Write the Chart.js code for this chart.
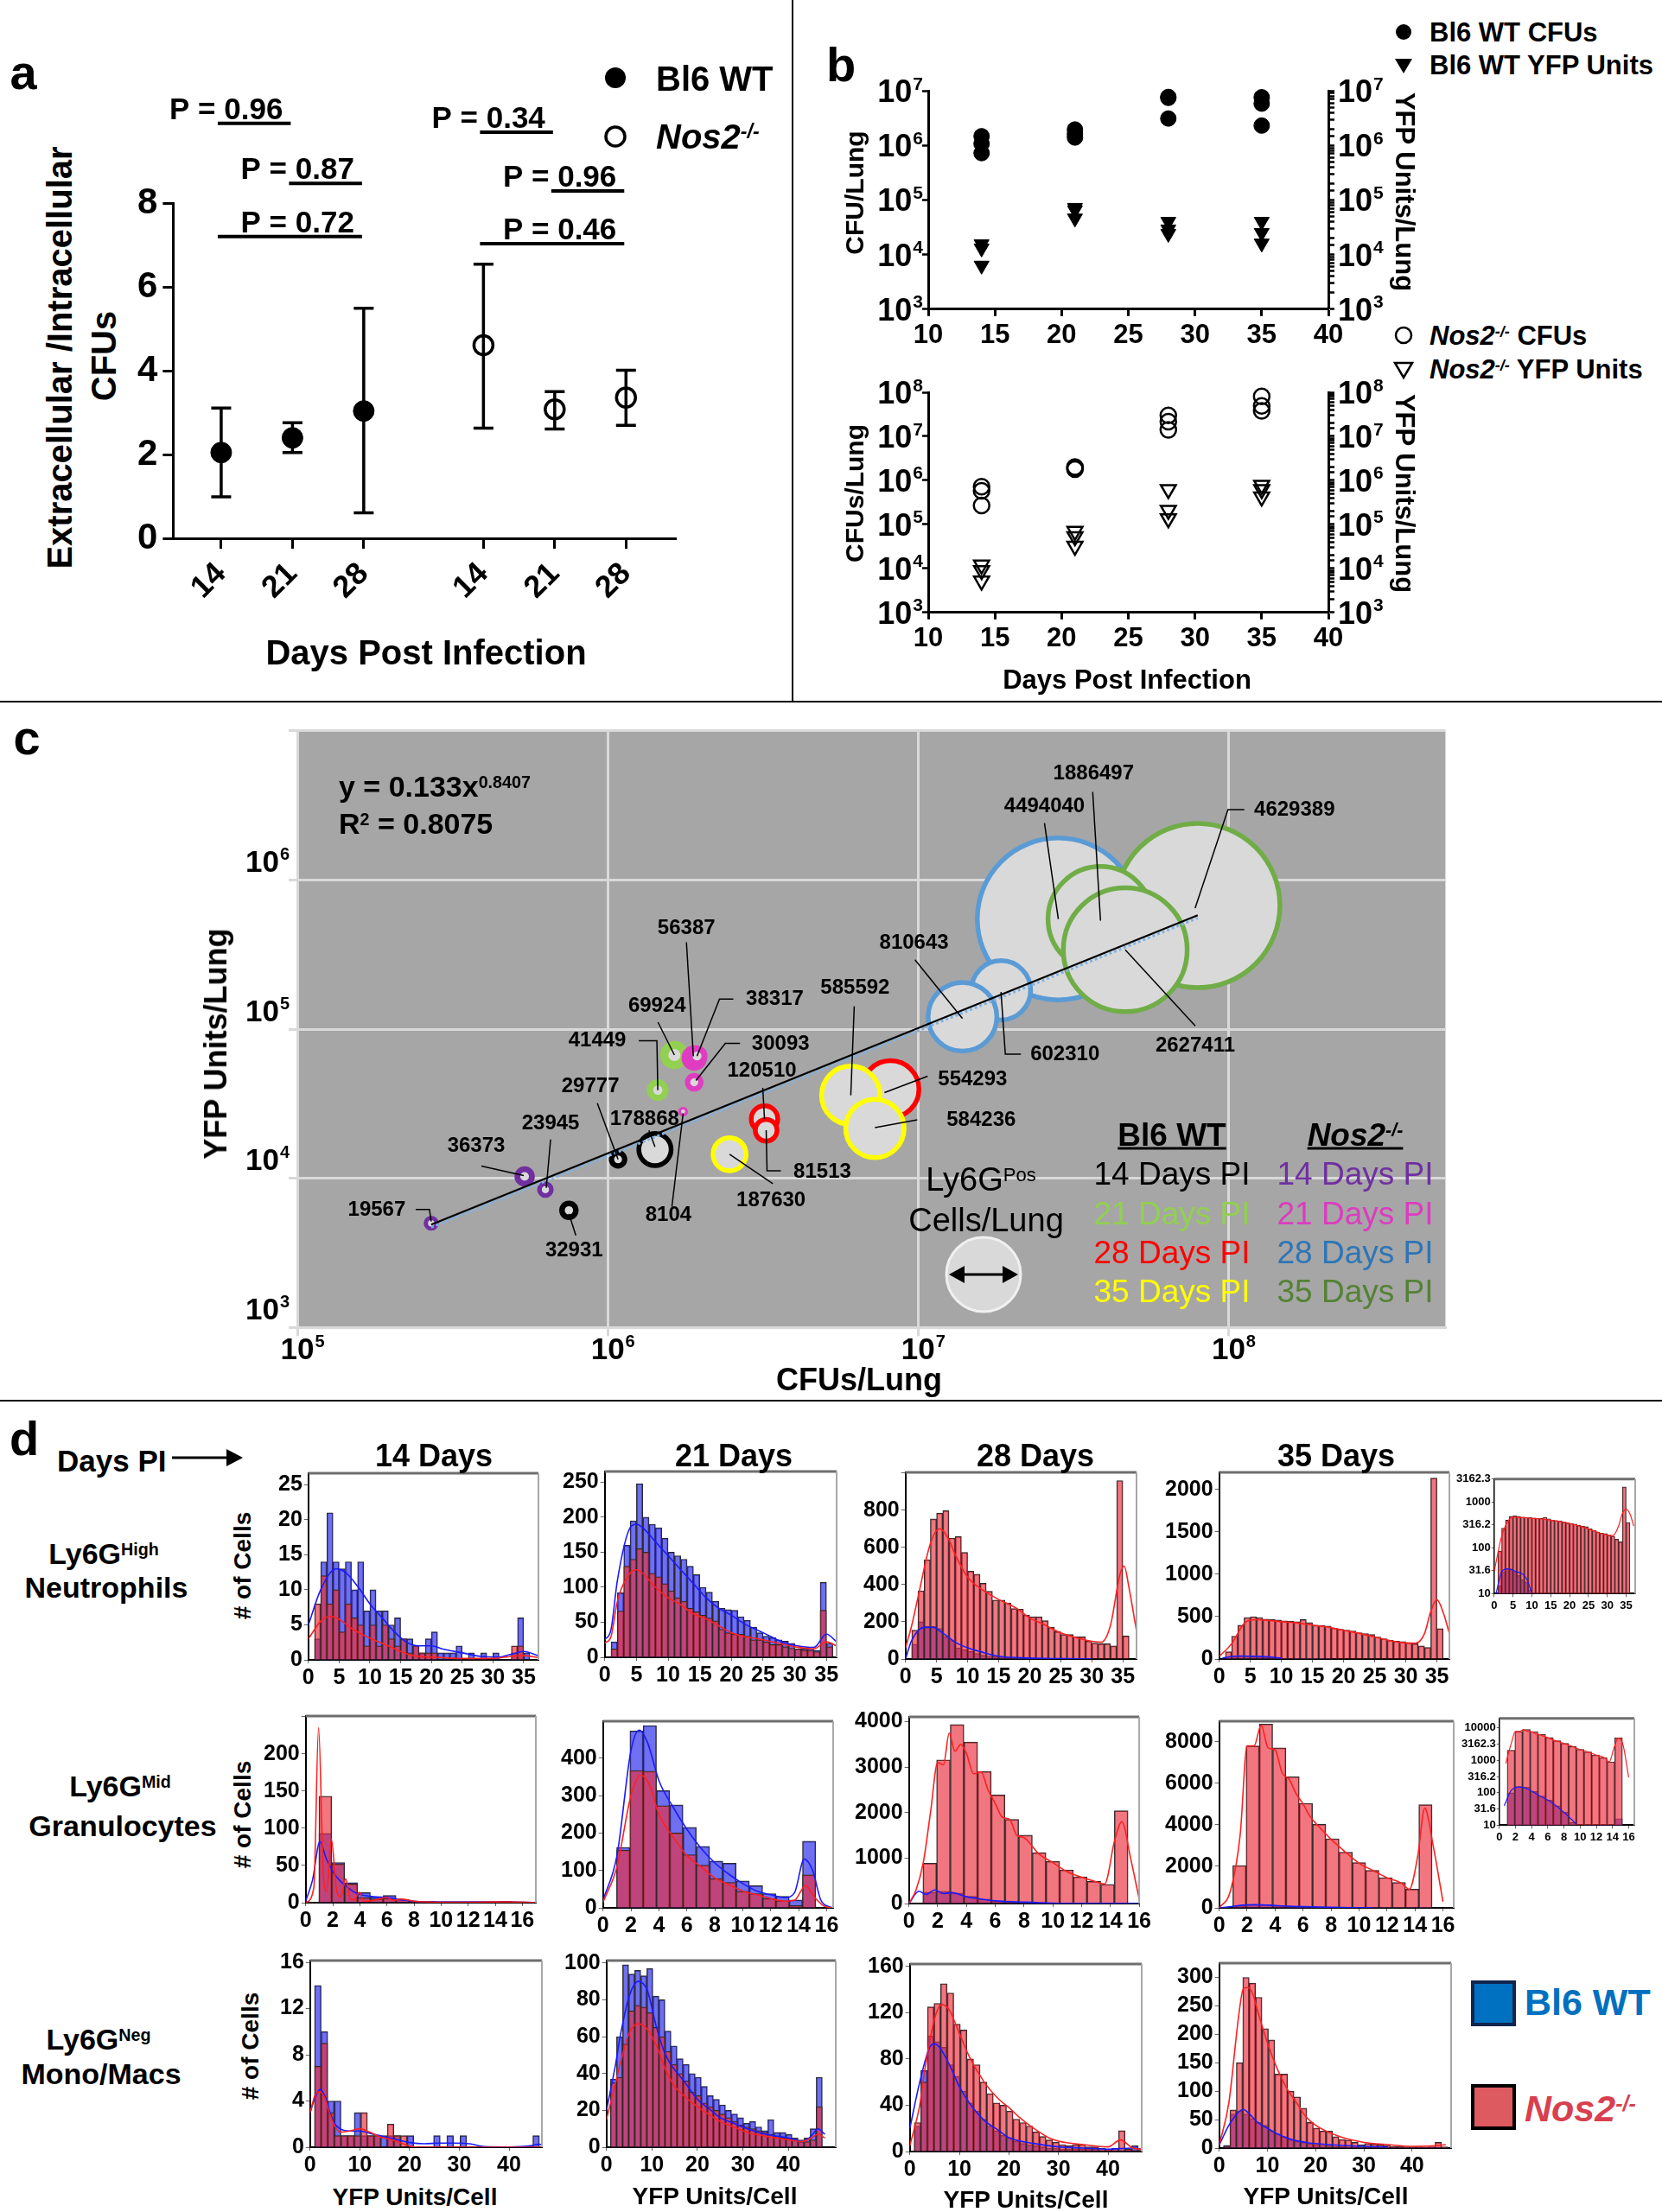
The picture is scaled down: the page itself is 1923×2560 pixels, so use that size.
<!DOCTYPE html>
<html>
<head>
<meta charset="utf-8">
<title>CFU and YFP units per lung</title>
<script src="https://cdn.jsdelivr.net/npm/chart.js@4.4.1/dist/chart.umd.min.js"></script>
<style>
  body { margin: 0; background: #fff; }
  #page { position: relative; width: 1923px; height: 2560px; overflow: hidden; background: #fff;
          font-family: "Liberation Sans", Arial, Helvetica, sans-serif; color: #000; }
  #page canvas { position: absolute; }
  .lbl { position: absolute; white-space: nowrap; font-weight: bold; line-height: 1; transform: translate(-50%, -50%); }
  .lbl sup { font-size: 0.58em; position: relative; top: -0.5em; vertical-align: baseline; }
</style>
</head>
<body>
<div id="page"></div>
<script>
var FONT = '"Liberation Sans", Arial, Helvetica, sans-serif';

// ---- a: extracellular / intracellular CFU ratio
var aTicks = ['14', '21', '28', '14', '21', '28'];
var aPos = [1, 2, 3, 4.68, 5.68, 6.68];
var wtRatio = [2.05, 2.40, 3.04];
var wtRatioLow = [0.99, 2.05, 0.61];
var wtRatioHigh = [3.11, 2.76, 5.49];
var nosRatio = [4.61, 3.08, 3.36];
var nosRatioLow = [2.63, 2.61, 2.70];
var nosRatioHigh = [6.54, 3.50, 4.01];
var pFrom = [0, 1, 0, 3, 4, 3];
var pTo = [1, 2, 2, 4, 5, 5];
var pText = ['0.96', '0.87', '0.72', '0.34', '0.96', '0.46'];
var pLevel = [9.9, 8.47, 7.2, 9.69, 8.29, 7.03];

// ---- b: CFU and YFP units per lung
var bDay = [14, 14, 14, 21, 21, 21, 28, 28, 28, 35, 35, 35];
var wtCfu = [1.47e6, 1.07e6, 7.2e5, 1.95e6, 1.62e6, 1.39e6, 7.7e6, 7.4e6, 3.1e6, 7.6e6, 5.8e6, 2.3e6];
var wtYfp = [1.55e4, 1.3e4, 6.3e3, 7.2e4, 6.5e4, 4.6e4, 4.0e4, 2.9e4, 2.4e4, 4.0e4, 2.5e4, 1.6e4];
var nosCfu = [7.2e5, 5.8e5, 2.7e5, 2.0e6, 1.9e6, 1.8e6, 3.0e7, 2.15e7, 1.4e7, 8.1e7, 4.9e7, 3.8e7];
var nosYfp = [1.2e4, 9e3, 5.2e3, 7.0e4, 5.3e4, 3.2e4, 6.2e5, 2.1e5, 1.35e5, 7.8e5, 6.2e5, 4.2e5];

// ---- c: bubbles, size = Ly6G+ cells per lung
var cGroups = ['Bl6 WT 14', 'Bl6 WT 21', 'Bl6 WT 28', 'Bl6 WT 35', 'Nos2 14', 'Nos2 21', 'Nos2 28', 'Nos2 35'];
var cColors = ['#000000', '#92d050', '#ff0000', '#ffff00', '#7030a0', '#e03cc2', '#5b9bd5', '#70ad47'];
var cCells = [[29777, 32931, 178868], [69924, 41449], [120510, 81513, 554293], [187630, 585592, 584236],
              [19567, 36373, 23945], [56387, 38317, 30093, 8104], [4494040, 602310, 810643], [4629389, 1886497, 2627411]];
var cCfu = [[1.08e6, 7.5e5, 1.42e6], [1.64e6, 1.45e6], [3.2e6, 3.24e6, 8.15e6], [2.47e6, 6.07e6, 7.26e6],
            [2.7e5, 5.4e5, 6.3e5], [1.9e6, 1.94e6, 1.9e6, 1.75e6], [2.83e7, 1.85e7, 1.39e7], [7.96e7, 3.87e7, 4.65e7]];
var cYfp = [[1.34e4, 6.1e3, 1.56e4], [6.7e4, 3.9e4], [2.5e4, 2.1e4, 3.96e4], [1.45e4, 3.6e4, 2.16e4],
            [5.0e3, 1.03e4, 8.4e3], [6.4e4, 6.6e4, 4.4e4, 2.8e4], [5.47e5, 1.82e5, 1.21e5], [6.73e5, 5.47e5, 3.4e5]];
var trendCfu = [2.7e5, 7.96e7];
var trendYfp = [4.9e3, 5.8e5];
var trendYfpDotted = [4.7e3, 5.55e5];

// ---- d: YFP units per cell histograms (bin counts, fitted curves as [x, y])
var hi14Wt = [3, 14, 21, 14, 13, 14, 10, 14, 7, 10, 7, 7, 5, 6, 3, 3, 2, 1, 3, 4, 1, 1, 1, 2, 0, 1, 0, 1, 0, 1, 0, 0, 1, 6, 1];
var hi14Nos = [8, 12, 8, 10, 4, 8, 6, 5, 2, 5, 2, 5, 3, 2, 3, 1, 2, 1, 1, 1, 0, 0, 0, 0, 0, 0, 0, 0, 0, 0, 0, 0, 2, 2, 0];
var hi14WtFit = [[0, 5], [2, 10], [4.5, 13], [6, 12.5], [8, 10.5], [10, 8], [12, 6], [14, 4], [16, 2.5], [18, 2], [20, 2], [22, 1.5], [25, 1], [28, 0.5], [31, 0.4], [33, 0.8], [35, 1.2], [37.4, 0.6]];
var hi14NosFit = [[0, 3], [2, 5.5], [3.5, 6.2], [5, 5.8], [7, 4.5], [9, 3.5], [11, 2.7], [13, 2], [15, 1.2], [17, 0.6], [20, 0.4], [25, 0.2], [30, 0.2], [33, 0.5], [35, 0.6], [37.4, 0.3]];
var hi21Wt = [22, 92, 160, 195, 248, 200, 190, 185, 170, 150, 145, 140, 130, 118, 100, 93, 80, 70, 68, 67, 58, 53, 43, 35, 30, 28, 25, 23, 20, 12, 12, 12, 10, 107, 20];
var hi21Nos = [12, 66, 130, 140, 155, 150, 120, 115, 105, 95, 85, 80, 70, 65, 60, 56, 52, 40, 35, 33, 33, 30, 25, 25, 22, 18, 18, 15, 13, 12, 10, 10, 8, 67, 15];
var hi21WtFit = [[0, 25], [1, 40], [2, 110], [4, 185], [5, 190], [6, 185], [8, 165], [10, 145], [12, 125], [14, 105], [16, 85], [18, 70], [20, 60], [22, 48], [25, 35], [28, 22], [30, 17], [33, 14], [35, 33], [36.6, 22]];
var hi21NosFit = [[0, 20], [1, 30], [2, 80], [4, 120], [5, 125], [6, 120], [8, 100], [10, 85], [12, 75], [14, 62], [16, 55], [18, 45], [20, 35], [25, 25], [30, 15], [33, 12], [35, 22], [36.6, 16]];
var hi28Wt = [80, 200, 175, 175, 165, 120, 100, 60, 50, 40, 30, 20, 15, 12, 12, 8, 5, 4, 3, 2, 2, 1, 1, 1, 1, 0, 0, 0, 0, 0, 0, 0, 0, 0, 0];
var hi28Nos = [155, 367, 534, 753, 784, 797, 650, 658, 573, 472, 456, 407, 364, 317, 317, 302, 271, 268, 237, 227, 227, 206, 170, 147, 132, 132, 119, 119, 97, 85, 82, 82, 70, 959, 124];
var hi28WtFit = [[0, 0], [1, 100], [3, 170], [4.5, 170], [6, 140], [8, 90], [10, 60], [12, 40], [15, 15], [20, 5], [25, 2], [30, 0]];
var hi28NosFit = [[0, 60], [1, 180], [2, 330], [4, 620], [5.5, 700], [7, 640], [8, 560], [10, 440], [12, 380], [15, 320], [18, 270], [20, 220], [22, 190], [25, 140], [28, 110], [30, 95], [31.5, 90], [33, 180], [34.5, 450], [35.2, 500], [36, 380], [37.2, 150]];
var hi35Wt = [15, 30, 35, 35, 30, 25, 20, 18, 12, 10, 5, 4, 3, 2, 2, 1, 1, 0, 0, 0, 0, 0, 0, 0, 0, 0, 0, 0, 0, 0, 0, 0, 0, 0, 0];
var hi35Nos = [85, 270, 400, 490, 500, 490, 470, 465, 460, 450, 445, 440, 465, 430, 400, 395, 390, 365, 350, 340, 330, 310, 300, 290, 260, 240, 220, 210, 205, 190, 180, 155, 136, 2136, 358];
var hi35WtFit = [[0.5, 10], [2, 30], [3.5, 35], [6, 30], [8, 25], [9, 18], [10, 10]];
var hi35NosFit = [[0, 30], [2, 180], [4, 420], [5, 460], [6, 465], [8, 455], [10, 440], [12, 430], [15, 400], [18, 370], [20, 340], [22, 310], [25, 260], [28, 210], [30, 190], [31.5, 185], [33, 300], [34, 560], [35, 700], [36, 550], [37, 300]];

var mid14Wt = [93, 54, 27, 13.5, 7.7, 9.7, 3.9, 2, 2, 0, 1, 0, 1, 0, 2];
var mid14Nos = [143, 52, 25, 6.6, 5, 5.8, 4.6, 2, 1, 0, 0, 0, 1, 0, 1];
var mid14WtFit = [[0, 2], [0.5, 30], [1.05, 82], [1.5, 60], [2, 42], [2.5, 30], [3, 22], [3.5, 15], [4, 11], [5, 8], [6, 7], [7, 4], [8, 2], [10, 1], [13, 1], [15, 1], [17, 0]];
var mid14NosFit = [[0, 0], [0.6, 20], [0.95, 235], [1.3, 40], [1.55, 15], [1.9, 85], [2.25, 20], [2.6, 8], [2.95, 32], [3.3, 5], [3.6, 4], [3.95, 14], [4.3, 2], [5, 3], [6, 7], [6.5, 3], [7, 5], [8, 2], [9, 1], [10, 0.5], [12, 0.5], [14, 1], [15, 1], [17, 0]];
var mid21Wt = [161.5, 473, 487, 313, 275, 215, 164, 125, 119, 72, 59, 38, 31, 21, 178];
var mid21Nos = [154, 367, 365, 273, 200, 142, 114, 78, 68, 44, 38, 25, 19, 6, 88];
var mid21WtFit = [[0, 20], [1, 140], [2, 420], [2.6, 475], [3.2, 440], [4, 340], [5, 270], [6, 210], [7, 160], [8, 120], [9, 90], [10, 65], [11, 45], [12, 35], [13, 27], [13.7, 40], [14.4, 130], [15, 100], [15.6, 20], [16.4, 0]];
var mid21NosFit = [[0, 15], [1, 110], [2, 300], [2.7, 355], [3.3, 330], [4, 250], [5, 190], [6, 140], [7, 110], [8, 80], [9, 62], [10, 45], [11, 35], [12, 25], [13, 18], [13.7, 20], [14.5, 60], [15.1, 30], [15.8, 5], [16.4, 0]];
var mid28Wt = [250, 270, 230, 160, 100, 50, 30, 20, 10, 5, 5, 3, 3, 2, 5];
var mid28Nos = [885, 3160, 3937, 3551, 2907, 2389, 1851, 1504, 1118, 929, 739, 588, 487, 423, 2041];
var mid28WtFit = [[0, 0], [0.7, 270], [1.2, 200], [1.8, 300], [2.4, 220], [3, 240], [4, 150], [5, 100], [6, 60], [8, 30], [10, 10], [12, 5], [16, 0]];
var mid28NosFit = [[0, 0], [0.5, 300], [1, 900], [1.5, 2000], [2, 3100], [2.4, 3050], [2.8, 3750], [3.2, 3350], [3.6, 3500], [4, 3300], [4.5, 2850], [5, 2900], [5.5, 2500], [6, 2200], [6.5, 1900], [7, 1850], [7.5, 1500], [8, 1450], [9, 1100], [10, 900], [11, 700], [12, 580], [13, 480], [13.6, 430], [14.3, 1400], [14.8, 1800], [15.4, 1000], [16, 100]];
var mid35Wt = [100, 155, 150, 110, 80, 60, 40, 25, 12, 10, 3, 3, 3, 3, 16];
var mid35Nos = [2039, 7795, 8849, 7698, 6311, 5035, 4022, 3329, 2677, 2178, 1803, 1456, 1220, 901, 4965];
var mid35WtFit = [[0, 0], [0.6, 40], [1.5, 120], [2.5, 150], [3.5, 130], [5, 80], [6.5, 50], [8, 25], [9.5, 11], [11, 4]];
var mid35NosFit = [[0, 0], [0.8, 800], [1.5, 3500], [2, 7800], [2.5, 7800], [3, 8800], [3.5, 7700], [4, 7600], [4.5, 6500], [5, 6200], [5.5, 5500], [6, 5000], [6.5, 4400], [7, 4000], [8, 3300], [9, 2700], [10, 2150], [11, 1800], [12, 1450], [13, 1200], [13.6, 900], [14.2, 2500], [14.7, 4800], [15.3, 3000], [16, 300]];

var neg14Wt = [14, 10, 4, 4, 1, 1, 3, 1, 1, 1, 1, 1, 1, 0, 1, 0, 0, 0, 1, 0, 1, 0, 1, 0, 0, 0, 0, 0, 0, 0, 0, 0, 0, 1, 0];
var neg14Nos = [7, 9, 3, 1, 1, 1, 1, 3, 1, 1, 0, 2, 1, 1, 0, 0, 0, 0, 0, 0, 0, 0, 0, 0, 0, 0, 0, 0, 0, 0, 0, 0, 0, 0, 0];
var neg14WtFit = [[0, 3], [1, 4.3], [2, 5], [3, 4.4], [4, 3], [5, 2], [6, 1.6], [8, 1.4], [10, 1.4], [12, 1.2], [14, 1], [16, 0.8], [18, 0.6], [20, 0.4], [23, 0.3], [26, 0.35], [29, 0.35], [32, 0.3], [35, 0.05], [40, 0.02], [44, 0.1], [46, 0.25], [47, 0.2]];
var neg14NosFit = [[0, 3], [1, 4.5], [2, 4.8], [3, 4.2], [4, 2.8], [5, 1.8], [6, 1.3], [8, 1.4], [10, 1.6], [12, 1.3], [14, 0.9], [16, 0.7], [18, 0.4], [20, 0.1], [22, 0], [47, 0]];
var neg21Wt = [37, 60, 99, 94, 96, 93, 97, 82, 80, 63, 55, 48, 45, 40, 38, 33, 28, 26, 23, 20, 18, 16, 13, 14, 11, 9, 15, 8, 8, 7, 5, 4, 5, 10, 38];
var neg21Nos = [35, 38, 56, 74, 77, 76, 73, 65, 60, 52, 45, 40, 36, 30, 28, 24, 22, 20, 18, 16, 14, 12, 11, 10, 9, 8, 7, 6, 5, 5, 4, 3, 3, 4, 22];
var neg21WtFit = [[0, 20], [2, 45], [3, 60], [5, 82], [7, 90], [9, 85], [11, 65], [13, 50], [15, 42], [17, 36], [20, 26], [23, 20], [25, 16], [28, 13], [31, 10], [35, 7], [40, 5], [43, 3], [45, 6], [46.5, 10], [48, 7]];
var neg21NosFit = [[0, 15], [2, 35], [3, 45], [5, 62], [7, 67], [9, 64], [11, 55], [13, 42], [15, 33], [17, 28], [20, 22], [23, 17], [25, 14], [28, 11], [31, 8], [35, 6], [40, 4], [43, 3], [45, 5], [46.5, 7], [48, 5]];
var neg28Wt = [22, 70, 100, 95, 90, 75, 65, 52, 42, 35, 28, 22, 18, 14, 12, 9, 7, 6, 5, 4, 3, 3, 2, 2, 2, 2, 2, 2, 1, 1, 1, 1, 1, 5, 1];
var neg28Nos = [25, 60, 125, 128, 145, 137, 110, 105, 80, 75, 60, 50, 42, 40, 35, 28, 25, 22, 17, 13, 10, 8, 6, 5, 6, 6, 4, 4, 3, 2, 3, 18, 2, 1, 1];
var neg28WtFit = [[0, 20], [2, 60], [4, 90], [5, 93], [6, 90], [8, 75], [10, 56], [12, 42], [15, 27], [18, 18], [20, 12], [25, 7], [30, 4], [35, 3], [40, 2], [45, 3], [47, 2]];
var neg28NosFit = [[0, 5], [2, 40], [3, 70], [5, 115], [6.5, 127], [8, 122], [10, 102], [12, 82], [15, 60], [18, 45], [20, 38], [22, 30], [25, 20], [28, 12], [30, 9], [35, 6], [40, 4], [42.5, 10], [45, 3], [47, 2]];
var neg35Wt = [5, 60, 65, 60, 52, 45, 40, 30, 25, 20, 15, 12, 10, 8, 6, 5, 4, 3, 3, 2, 2, 2, 2, 1, 1, 1, 1, 1, 1, 1, 1, 1, 1, 1, 1];
var neg35Nos = [3, 67, 150, 300, 290, 265, 210, 190, 130, 130, 100, 90, 70, 45, 35, 30, 30, 20, 15, 14, 10, 6, 8, 7, 6, 5, 3, 3, 2, 2, 2, 1, 2, 10, 2];
var neg35WtFit = [[0, 5], [2, 40], [4, 63], [5, 68], [6, 62], [8, 45], [10, 35], [12, 25], [15, 15], [18, 10], [20, 8], [25, 5], [30, 3], [35, 2]];
var neg35NosFit = [[0, 5], [2, 80], [4, 230], [5, 280], [6, 282], [7, 270], [8, 240], [10, 185], [12, 140], [14, 105], [16, 80], [18, 55], [20, 40], [25, 20], [30, 10], [35, 6], [40, 3], [45, 4], [47, 6]];

// ------------------------------------------------------------------
Chart.defaults.font.family = FONT;
Chart.defaults.color = '#000';
Chart.defaults.animation = false;
Chart.defaults.responsive = false;
Chart.defaults.maintainAspectRatio = false;
Chart.defaults.events = [];
Chart.defaults.plugins.legend.display = false;
Chart.defaults.plugins.tooltip.enabled = false;

var page = document.getElementById('page');

function mix(a, b) { var o = {}, k; for (k in a) o[k] = a[k]; for (k in b) o[k] = b[k]; return o; }

function label(html, x, y, size, css) {
  var d = document.createElement('div');
  d.className = 'lbl';
  d.innerHTML = html;
  d.style.left = x + 'px';
  d.style.top = y + 'px';
  d.style.fontSize = size + 'px';
  if (css) for (var k in css) d.style[k] = css[k];
  page.appendChild(d);
  return d;
}
var LEFT = { transform: 'translate(0,-50%)' };
var ROT_L = { transform: 'translate(-50%,-50%) rotate(-90deg)' };
var ROT_R = { transform: 'translate(-50%,-50%) rotate(90deg)' };

function tickList(max, step) {
  var out = [];
  for (var i = 0; i * step <= max + 1e-9; i++) out.push({ value: +(i * step).toFixed(6) });
  return out;
}

// build the chart, then resize/move the canvas so the plot area lands on box
function makeChart(box, build) {
  box = box.map(Math.round);
  var cv = document.createElement('canvas');
  page.appendChild(cv);
  var bw = box[2] - box[0], bh = box[3] - box[1];
  var w = bw + 250, h = bh + 250, ch, a;
  for (var k = 0; k < 3; k++) {
    cv.width = w; cv.height = h;
    cv.style.width = w + 'px'; cv.style.height = h + 'px';
    ch = new Chart(cv, build());
    a = ch.chartArea;
    var dw = bw - (a.right - a.left), dh = bh - (a.bottom - a.top);
    if ((Math.abs(dw) < 0.6 && Math.abs(dh) < 0.6) || k === 2) break;
    ch.destroy();
    w = Math.round(w + dw); h = Math.round(h + dh);
  }
  a = ch.chartArea;
  cv.style.left = (box[0] - a.left) + 'px';
  cv.style.top = (box[1] - a.top) + 'px';
  return ch;
}

// ---- plugins
var errorBars = {
  id: 'errorBars',
  beforeDatasetsDraw: function (chart) {
    var ctx = chart.ctx, xs = chart.scales.x, ys = chart.scales.y;
    chart.data.datasets.forEach(function (ds) {
      if (!ds.low) return;
      ctx.save();
      ctx.strokeStyle = '#000';
      ctx.lineWidth = 3.5;
      ds.data.forEach(function (p, i) {
        var x = xs.getPixelForValue(p.x), y1 = ys.getPixelForValue(ds.low[i]), y2 = ys.getPixelForValue(ds.high[i]);
        ctx.beginPath();
        ctx.moveTo(x, y1); ctx.lineTo(x, y2);
        ctx.moveTo(x - 11.5, y1); ctx.lineTo(x + 11.5, y1);
        ctx.moveTo(x - 11.5, y2); ctx.lineTo(x + 11.5, y2);
        ctx.stroke();
      });
      ctx.restore();
    });
  }
};

var pLines = {
  id: 'pLines',
  afterDraw: function (chart) {
    var ctx = chart.ctx, xs = chart.scales.x, ys = chart.scales.y;
    ctx.save();
    ctx.strokeStyle = '#000'; ctx.fillStyle = '#000'; ctx.lineWidth = 4;
    ctx.font = 'bold 35px ' + FONT; ctx.textAlign = 'right'; ctx.textBaseline = 'alphabetic';
    pText.forEach(function (t, i) {
      var x1 = xs.getPixelForValue(aPos[pFrom[i]]) - 4, x2 = xs.getPixelForValue(aPos[pTo[i]]) - 2;
      var y = ys.getPixelForValue(pLevel[i]);
      ctx.beginPath(); ctx.moveTo(x1, y); ctx.lineTo(x2, y); ctx.stroke();
      ctx.fillText('P = ' + t, x2 - 9, y - 5);
    });
    ctx.restore();
  }
};

// "10" with a superscript exponent at each decade tick
var powLabels = {
  id: 'powLabels',
  afterDraw: function (chart, args, opts) {
    var ctx = chart.ctx;
    (opts.axes || []).forEach(function (a) {
      var sc = chart.scales[a.id];
      sc.ticks.forEach(function (t) {
        var lg = Math.log10(t.value), e = Math.round(lg);
        if (Math.abs(lg - e) > 1e-6) return;
        if (a.skip && a.skip.indexOf(e) >= 0) return;
        var p = sc.getPixelForValue(t.value);
        var big = 'bold ' + a.size + 'px ' + FONT, small = 'bold ' + a.sup + 'px ' + FONT;
        ctx.save();
        ctx.fillStyle = '#000'; ctx.textAlign = 'left'; ctx.textBaseline = 'alphabetic';
        ctx.font = big; var w1 = ctx.measureText('10').width;
        ctx.font = small; var w2 = ctx.measureText(String(e)).width;
        var x0, yb;
        if (a.side === 'left') { x0 = sc.right - a.gap - w1 - w2 - 1; yb = p + a.size * 0.36 + (a.dy || 0); }
        else if (a.side === 'right') { x0 = sc.left + a.gap; yb = p + a.size * 0.36 + (a.dy || 0); }
        else { x0 = p - w1 / 2 + (a.dx || 0); yb = sc.top + a.gap + a.size * 0.72; }
        ctx.font = big; ctx.fillText('10', x0, yb);
        ctx.font = small; ctx.fillText(String(e), x0 + w1 + 1, yb - a.size * 0.4);
        ctx.restore();
      });
    });
  }
};

var plotBg = {
  id: 'plotBg',
  beforeDraw: function (chart) {
    var a = chart.chartArea, ctx = chart.ctx;
    ctx.save(); ctx.fillStyle = '#a6a6a6';
    ctx.fillRect(a.left, a.top, a.right - a.left, a.bottom - a.top);
    ctx.restore();
  }
};

var boxFrame = {
  id: 'boxFrame',
  afterDraw: function (chart) {
    var a = chart.chartArea, ctx = chart.ctx;
    ctx.save();
    ctx.strokeStyle = '#6e6e6e'; ctx.lineWidth = 3;
    ctx.beginPath(); ctx.moveTo(a.left, a.top); ctx.lineTo(a.right, a.top); ctx.stroke();
    ctx.strokeStyle = '#a8a8a8'; ctx.lineWidth = 2;
    ctx.beginPath(); ctx.moveTo(a.right, a.top); ctx.lineTo(a.right, a.bottom); ctx.stroke();
    ctx.restore();
  }
};

// label text offset [dx, dy] from the bubble centre, then leader line points
var cNotes = {
  29777: [-32, -84, [[-24, -65], [0, 0]]],
  32931: [6, 47, [[8, 29], [0, 4]]],
  178868: [-12, -35, [[-7, -22], [0, -3]]],
  69924: [-20, -57, [[-19, -38], [0, 0]]],
  41449: [-70, -57, [[-22, -57], [-1, -57], [0, 0]]],
  120510: [-3, -56, [[-2, -36], [0, 0]]],
  81513: [65, 48, [[17, 47], [1, 47], [0, 0]]],
  554293: [95, -11, [[43, -15], [-7, 4]]],
  187630: [48, 54, [[50, 34], [0, 0]]],
  585592: [5, -124, [[4, -103], [0, 0]]],
  584236: [123, -10, [[49, -10], [0, -1]]],
  19567: [-63, -15, [[-18, -16], [-2, -16], [0, -2]]],
  36373: [-56, -35, [[-50, -12], [-1, -1]]],
  23945: [6, -76, [[6, -58], [1, -2]]],
  56387: [-9, -150, [[-9, -134], [-1, -2]]],
  38317: [90, -66, [[42, -66], [26, -66], [0, 0]]],
  30093: [100, -44, [[53, -45], [36, -45], [2, -2]]],
  8104: [-17, 120, [[-13, 110], [0, 2]]],
  810643: [-56, -85, [[-55, -66], [0, 2]]],
  602310: [74, 74, [[23, 74], [5, 74], [0, 2]]],
  4494040: [-16, -130, [[-16, -111], [0, 0]]],
  4629389: [112, -111, [[54, -111], [35, -111], [-3, 3]]],
  2627411: [81, 111, [[81, 88], [0, 0]]],
  1886497: [-8, -168, [[-9, -147], [0, 2]]]
};

var bubbleNotes = {
  id: 'bubbleNotes',
  afterDatasetsDraw: function (chart) {
    var ctx = chart.ctx, xs = chart.scales.x, ys = chart.scales.y;
    ctx.save();
    ctx.font = 'bold 24px ' + FONT; ctx.textAlign = 'center'; ctx.textBaseline = 'middle';
    ctx.strokeStyle = '#000'; ctx.fillStyle = '#000'; ctx.lineWidth = 1.5;
    chart.data.datasets.forEach(function (ds) {
      if (!ds.cells) return;
      ds.data.forEach(function (p, i) {
        var n = cNotes[ds.cells[i]];
        if (!n) return;
        var px = xs.getPixelForValue(p.x), py = ys.getPixelForValue(p.y);
        ctx.beginPath();
        n[2].forEach(function (q, j) {
          if (j) ctx.lineTo(px + q[0], py + q[1]); else ctx.moveTo(px + q[0], py + q[1]);
        });
        ctx.stroke();
        ctx.fillText(String(ds.cells[i]), px + n[0], py + n[1]);
      });
    });
    ctx.restore();
  }
};

// =================== panel a
makeChart([200, 235, 782, 623], function () {
  return {
    type: 'scatter',
    data: { datasets: [
      { label: 'Bl6 WT', data: wtRatio.map(function (v, i) { return { x: aPos[i], y: v }; }),
        low: wtRatioLow, high: wtRatioHigh,
        pointRadius: 12, pointBackgroundColor: '#000', pointBorderColor: '#000', pointBorderWidth: 1 },
      { label: 'Nos2-/-', data: nosRatio.map(function (v, i) { return { x: aPos[i + 3], y: v }; }),
        low: nosRatioLow, high: nosRatioHigh,
        pointRadius: 11, pointBackgroundColor: 'rgba(255,255,255,0)', pointBorderColor: '#000', pointBorderWidth: 3.5 }
    ] },
    options: {
      layout: { padding: { top: 170, right: 30, left: 10, bottom: 10 } },
      scales: {
        x: { type: 'linear', min: 0.326, max: 7.38,
             afterBuildTicks: function (s) { s.ticks = aPos.map(function (v) { return { value: v }; }); },
             ticks: { callback: function (v) { return aTicks[aPos.indexOf(v)]; }, minRotation: 45, maxRotation: 45,
                      autoSkip: false, font: { size: 36, weight: 'bold' }, padding: 8 },
             grid: { drawOnChartArea: false, tickLength: 12, tickWidth: 3, tickColor: '#000' },
             border: { color: '#000', width: 3 } },
        y: { min: 0, max: 8,
             ticks: { stepSize: 2, font: { size: 42, weight: 'bold' }, padding: 6 },
             grid: { drawOnChartArea: false, tickLength: 12, tickWidth: 3, tickColor: '#000' },
             border: { color: '#000', width: 3 } }
      }
    },
    plugins: [errorBars, pLines]
  };
});

// =================== panel b
function scatterSet(vals, style, r, filled) {
  return {
    data: vals.map(function (v, i) { return { x: bDay[i], y: v }; }),
    clip: false,
    pointStyle: style, pointRadius: r, pointRotation: style === 'triangle' ? 180 : 0,
    pointBackgroundColor: filled ? '#000' : 'rgba(255,255,255,0)',
    pointBorderColor: '#000', pointBorderWidth: filled ? 1 : 2.5
  };
}
function bPanel(box, ymax, sets) {
  return makeChart(box, function () {
    var logAxis = function (pos, decadesOnly) {
      var o = { type: 'logarithmic', position: pos, min: 1e3, max: ymax,
        ticks: { display: false },
        grid: { drawOnChartArea: false, tickLength: 7, tickWidth: 2.5, tickColor: '#000' },
        border: { color: '#000', width: 3 } };
      if (decadesOnly) o.afterBuildTicks = function (s) {
        s.ticks = s.ticks.filter(function (t) { var l = Math.log10(t.value); return Math.abs(l - Math.round(l)) < 1e-6; });
      };
      return o;
    };
    return {
      type: 'scatter',
      data: { datasets: sets() },
      options: {
        layout: { padding: { left: 95, right: 100, top: 25, bottom: 5 } },
        plugins: { powLabels: { axes: [
          { id: 'y', side: 'left', size: 36, sup: 21, gap: 6 },
          { id: 'y2', side: 'right', size: 36, sup: 21, gap: 11 } ] } },
        scales: {
          x: { type: 'linear', min: 10, max: 40,
               ticks: { stepSize: 5, font: { size: 31, weight: 'bold' }, padding: 4 },
               grid: { drawOnChartArea: false, tickLength: 8, tickWidth: 3, tickColor: '#000' },
               border: { color: '#000', width: 3 } },
          y: logAxis('left', true),
          y2: logAxis('right', false)
        }
      },
      plugins: [powLabels]
    };
  });
}
bPanel([1074, 105, 1537, 358], 1e7, function () {
  return [scatterSet(wtCfu, 'circle', 9, true), scatterSet(wtYfp, 'triangle', 10, true)];
});
bPanel([1074, 454, 1537, 709], 1e8, function () {
  return [scatterSet(nosCfu, 'circle', 9, false), scatterSet(nosYfp, 'triangle', 10, false)];
});

// =================== panel c
var cOrder = [8, 7, 4, 3, 6, 5, 2, 1];
function bubbleR(cells) { return 0.0442 * Math.sqrt(cells); }
makeChart([344, 846, 1672, 1537], function () {
  var sets = cGroups.map(function (g, k) {
    return {
      type: 'bubble', label: g, cells: cCells[k], order: cOrder[k],
      data: cCells[k].map(function (n, i) { return { x: cCfu[k][i], y: cYfp[k][i], r: bubbleR(n) }; }),
      backgroundColor: '#d9d9d9', borderColor: cColors[k],
      borderWidth: function (ctx) { var r = ctx.raw ? ctx.raw.r : 20; return r < 12 ? r * 0.8 : 5.5; }
    };
  });
  sets.push({ type: 'line', label: 'fit', order: -1, pointRadius: 0, borderColor: '#7fb2e5', borderWidth: 3, borderDash: [3, 3],
              data: trendCfu.map(function (x, i) { return { x: x, y: trendYfpDotted[i] }; }) });
  sets.push({ type: 'line', label: 'power fit', order: -2, pointRadius: 0, borderColor: '#000', borderWidth: 2.2,
              data: trendCfu.map(function (x, i) { return { x: x, y: trendYfp[i] }; }) });
  return {
    type: 'bubble',
    data: { datasets: sets },
    options: {
      layout: { padding: { left: 110, bottom: 60, top: 10, right: 10 } },
      plugins: { powLabels: { axes: [
        { id: 'y', side: 'left', size: 35, sup: 20, gap: 9, dy: -22, skip: [7] },
        { id: 'x', side: 'bottom', size: 35, sup: 20, gap: 11 } ] } },
      scales: {
        x: { type: 'logarithmic', min: 1e5, max: 5e8,
             afterBuildTicks: function (s) { s.ticks = [1e5, 1e6, 1e7, 1e8].map(function (v) { return { value: v }; }); },
             ticks: { display: false },
             grid: { color: '#d9d9d9', lineWidth: 3, tickLength: 10, tickColor: '#d9d9d9' },
             border: { color: '#d9d9d9', width: 3 } },
        y: { type: 'logarithmic', min: 1e3, max: 1e7,
             afterBuildTicks: function (s) { s.ticks = [1e3, 1e4, 1e5, 1e6, 1e7].map(function (v) { return { value: v }; }); },
             ticks: { display: false },
             grid: { color: '#d9d9d9', lineWidth: 3, tickLength: 10, tickColor: '#d9d9d9' },
             border: { color: '#d9d9d9', width: 3 } }
      }
    },
    plugins: [plotBg, powLabels, bubbleNotes]
  };
});

// =================== panel d
function hist(box, d) {
  return makeChart(box, function () {
    var pts = function (arr) { return arr.map(function (v, i) { return { x: d.start + i * d.step, y: v }; }); };
    var fit = function (arr) {
      return arr.filter(function (p) { return !d.log || p[1] >= d.ymin; }).map(function (p) { return { x: p[0], y: p[1] }; });
    };
    var barSet = function (arr, color, order, name) {
      return { type: 'bar', label: name, data: pts(arr), backgroundColor: color, borderColor: '#2b2b2b',
               borderWidth: d.bw || 1, grouped: false, barPercentage: 1, categoryPercentage: 1, order: order };
    };
    var lineSet = function (arr, color) {
      return { type: 'line', data: fit(arr), borderColor: color, borderWidth: d.lw || 1.6, pointRadius: 0,
               cubicInterpolationMode: 'monotone', order: 0 };
    };
    var labelTop = d.labelMax || d.ymax;
    var y = d.log ? {
      type: 'logarithmic', min: d.ymin, max: d.ymax,
      afterBuildTicks: function (s) { s.ticks = d.logTicks.map(function (v) { return { value: v }; }); },
      ticks: { callback: function (v) { return String(v); }, font: { size: d.fs, weight: 'bold' }, padding: 1 },
      grid: { drawOnChartArea: false, tickLength: 3, tickColor: '#666' },
      border: { color: '#000', width: 1.5 }
    } : {
      type: 'linear', min: 0, max: d.ymax,
      afterBuildTicks: function (s) { s.ticks = tickList(d.ymax, d.yMinor || d.yStep); },
      ticks: { callback: function (v) { var q = v / d.yStep; return (Math.abs(q - Math.round(q)) < 1e-6 && v <= labelTop) ? v : ''; },
               font: { size: d.fs, weight: 'bold' }, padding: 2 },
      grid: { drawOnChartArea: false, tickLength: 5, tickColor: '#666' },
      border: { color: '#000', width: 2 }
    };
    return {
      type: 'bar',
      data: { datasets: [
        lineSet(d.nosFit, '#ff2020'), lineSet(d.wtFit, '#1a1aff'),
        barSet(d.nos, 'rgba(235,45,60,0.65)', 1, 'Nos2-/-'), barSet(d.wt, 'rgba(50,50,235,0.7)', 2, 'Bl6 WT')
      ] },
      options: {
        layout: { padding: { left: 4, right: 12, top: 8, bottom: 4 } },
        scales: {
          x: { type: 'linear', offset: false, min: 0, max: d.xmax,
               afterBuildTicks: function (s) { s.ticks = tickList(d.xLast, d.xStep); },
               ticks: { font: { size: d.fs, weight: 'bold' }, autoSkip: false, maxRotation: 0, padding: 2 },
               grid: { offset: false, drawOnChartArea: false, tickLength: 4, tickColor: '#666' },
               border: { color: '#000', width: 2 } },
          y: y
        }
      },
      plugins: [boxFrame]
    };
  });
}

var rowHigh = { start: 1.5, step: 1, xLast: 35, xStep: 5, fs: 25 };
var rowMid = { start: 1.45, step: 0.95, xLast: 16, xStep: 2, fs: 25 };
var rowNeg = { start: 1.55, step: 1.33, xLast: 40, xStep: 10, fs: 25 };
var inset = { fs: 13, lw: 1.2, bw: 0.8, log: true, ymin: 10 };

hist([357, 1705, 623, 1921], mix(rowHigh, { xmax: 37.4, ymax: 26.64, yStep: 5, wt: hi14Wt, nos: hi14Nos, wtFit: hi14WtFit, nosFit: hi14NosFit }));
hist([700, 1703, 968, 1918], mix(rowHigh, { xmax: 36.6, ymax: 265.3, yStep: 50, wt: hi21Wt, nos: hi21Nos, wtFit: hi21WtFit, nosFit: hi21NosFit }));
hist([1048, 1704, 1315, 1920], mix(rowHigh, { xmax: 37.2, ymax: 1003, yStep: 200, yMinor: 100, labelMax: 800, wt: hi28Wt, nos: hi28Nos, wtFit: hi28WtFit, nosFit: hi28NosFit }));
hist([1411, 1704, 1677, 1920], mix(rowHigh, { xmax: 37, ymax: 2204, yStep: 500, yMinor: 250, wt: hi35Wt, nos: hi35Nos, wtFit: hi35WtFit, nosFit: hi35NosFit }));
hist([1729, 1712, 1892, 1845], mix(mix(rowHigh, inset), { xmax: 37.4, ymax: 3162.3, logTicks: [10, 31.6, 100, 316.2, 1000, 3162.3], wt: hi35Wt, nos: hi35Nos, wtFit: hi35WtFit, nosFit: hi35NosFit }));

hist([354, 1986, 620, 2202], mix(rowMid, { xmax: 17, ymax: 250.6, yStep: 50, yMinor: 25, labelMax: 200, wt: mid14Wt, nos: mid14Nos, wtFit: mid14WtFit, nosFit: mid14NosFit }));
hist([698, 1992, 964, 2208], mix(rowMid, { xmax: 16.47, ymax: 498.5, yStep: 100, yMinor: 50, wt: mid21Wt, nos: mid21Nos, wtFit: mid21WtFit, nosFit: mid21NosFit }));
hist([1052, 1987, 1318, 2203], mix(rowMid, { xmax: 16, ymax: 4106, yStep: 1000, yMinor: 500, wt: mid28Wt, nos: mid28Nos, wtFit: mid28WtFit, nosFit: mid28NosFit }));
hist([1411, 1992, 1682, 2208], mix(rowMid, { xmax: 16.77, ymax: 8985, yStep: 2000, yMinor: 1000, wt: mid35Wt, nos: mid35Nos, wtFit: mid35WtFit, nosFit: mid35NosFit }));
hist([1735, 1989, 1891, 2113], mix(mix(rowMid, inset), { xmax: 16.7, ymax: 19500, logTicks: [10, 31.6, 100, 316.2, 1000, 3162.3, 10000], wt: mid35Wt, nos: mid35Nos, wtFit: mid35WtFit, nosFit: mid35NosFit }));

hist([359, 2269, 627, 2485], mix(rowNeg, { xmax: 46.6, ymax: 16.15, yStep: 4, yMinor: 2, wt: neg14Wt, nos: neg14Nos, wtFit: neg14WtFit, nosFit: neg14NosFit }));
hist([702, 2269, 967, 2485], mix(rowNeg, { xmax: 50.4, ymax: 101.3, yStep: 20, yMinor: 10, wt: neg21Wt, nos: neg21Nos, wtFit: neg21WtFit, nosFit: neg21NosFit }));
hist([1053, 2273, 1321, 2490], mix(rowNeg, { xmax: 46.8, ymax: 162, yStep: 40, yMinor: 20, wt: neg28Wt, nos: neg28Nos, wtFit: neg28WtFit, nosFit: neg28NosFit }));
hist([1411, 2272, 1679, 2486], mix(rowNeg, { xmax: 48.1, ymax: 325, yStep: 50, yMinor: 25, wt: neg35Wt, nos: neg35Nos, wtFit: neg35WtFit, nosFit: neg35NosFit }));

// =================== text
label('a', 27, 84, 56);
label('Bl6 WT', 759, 91, 40, LEFT);
label('<i>Nos2<sup>-/-</sup></i>', 759, 158, 40, LEFT);
label('Extracellular /Intracellular', 69, 414, 40, ROT_L);
label('CFUs', 120, 412, 40, ROT_L);
label('Days Post Infection', 493, 755, 40);

label('b', 973, 75, 56);
label('Bl6 WT CFUs', 1654, 37, 31, LEFT);
label('Bl6 WT YFP Units', 1654, 75, 31, LEFT);
label('<i>Nos2<sup>-/-</sup></i> CFUs', 1654, 388, 31, LEFT);
label('<i>Nos2<sup>-/-</sup></i> YFP Units', 1654, 427, 31, LEFT);
label('CFU/Lung', 989, 223, 30, ROT_L);
label('YFP Units/Lung', 1625, 222, 31, ROT_R);
label('CFUs/Lung', 989, 571, 30, ROT_L);
label('YFP Units/Lung', 1625, 571, 31, ROT_R);
label('Days Post Infection', 1304, 786, 31);

label('c', 31, 854, 56);
label('y = 0.133x<sup>0.8407</sup>', 392, 910, 34, LEFT);
label('R<sup>2</sup> = 0.8075', 392, 953, 34, LEFT);
label('YFP Units/Lung', 250, 1208, 36, ROT_L);
label('CFUs/Lung', 994, 1597, 36);
label('<u>Bl6 WT</u>', 1356, 1313, 37);
label('<u><i>Nos2<sup>-/-</sup></i></u>', 1568, 1313, 37);
var legendDays = ['14 Days PI', '21 Days PI', '28 Days PI', '35 Days PI'];
var legendWt = ['#000000', '#92d050', '#ff0000', '#ffff00'];
var legendNos = ['#7030a0', '#dc3cc0', '#2e75b6', '#548235'];
var legendY = [1358, 1404, 1449, 1494];
legendDays.forEach(function (t, i) {
  label(t, 1356, legendY[i], 37, { fontWeight: 'normal', color: legendWt[i] });
  label(t, 1568, legendY[i], 37, { fontWeight: 'normal', color: legendNos[i] });
});
label('Ly6G<sup>Pos</sup>', 1135, 1365, 38, { fontWeight: 'normal' });
label('Cells/Lung', 1141, 1412, 38, { fontWeight: 'normal' });

label('d', 28, 1665, 56);
label('Days PI', 66, 1690, 35, LEFT);
label('14 Days', 502, 1685, 36);
label('21 Days', 849, 1685, 36);
label('28 Days', 1198, 1685, 36);
label('35 Days', 1546, 1685, 36);
label('Ly6G<sup>High</sup>', 120, 1798, 34);
label('Neutrophils', 123, 1837, 34);
label('Ly6G<sup>Mid</sup>', 139, 2067, 34);
label('Granulocytes', 142, 2113, 34);
label('Ly6G<sup>Neg</sup>', 114, 2360, 34);
label('Mono/Macs', 117, 2400, 34);
label('# of Cells', 281, 1812, 28, ROT_L);
label('# of Cells', 281, 2100, 28, ROT_L);
label('# of Cells', 290, 2368, 28, ROT_L);
label('YFP Units/Cell', 480, 2543, 28);
label('YFP Units/Cell', 827, 2542, 28);
label('YFP Units/Cell', 1187, 2546, 28);
label('YFP Units/Cell', 1534, 2542, 28);
label('Bl6 WT', 1764, 2317, 43, mix(LEFT, { color: '#0070c0' }));
label('<i>Nos2<sup>-/-</sup></i>', 1764, 2440, 43, mix(LEFT, { color: '#d9404f' }));

// =================== rules, legend markers, arrows
var deco = [
  '<rect x="916" y="0" width="2" height="812" fill="#000"/>',
  '<rect x="0" y="811" width="1923" height="2" fill="#000"/>',
  '<rect x="0" y="1620" width="1923" height="2" fill="#000"/>',
  '<circle cx="712" cy="90" r="12" fill="#000"/>',
  '<circle cx="712" cy="158" r="11" fill="none" stroke="#000" stroke-width="3.5"/>',
  '<circle cx="1624" cy="37" r="9" fill="#000"/>',
  '<polygon points="1614,68 1634,68 1624,85" fill="#000"/>',
  '<circle cx="1624" cy="388" r="9" fill="none" stroke="#000" stroke-width="2.5"/>',
  '<polygon points="1614,420 1634,420 1624,437" fill="none" stroke="#000" stroke-width="2.5"/>',
  '<circle cx="1138" cy="1475" r="43" fill="#d9d9d9" stroke="#f0f0f0" stroke-width="3"/>',
  '<line x1="1110" y1="1475" x2="1166" y2="1475" stroke="#000" stroke-width="3"/>',
  '<polygon points="1098,1475 1116,1465 1116,1485" fill="#000"/>',
  '<polygon points="1178,1475 1160,1465 1160,1485" fill="#000"/>',
  '<line x1="199" y1="1687" x2="266" y2="1687" stroke="#000" stroke-width="3"/>',
  '<polygon points="281,1687 262,1677 262,1697" fill="#000"/>',
  '<rect x="1704" y="2294" width="48" height="49" fill="#0070c0" stroke="#10254f" stroke-width="4"/>',
  '<rect x="1704" y="2414" width="48" height="49" fill="#dc5a60" stroke="#000" stroke-width="4"/>'
].join('');
var holder = document.createElement('div');
holder.innerHTML = '<svg xmlns="http://www.w3.org/2000/svg" width="1923" height="2560" style="position:absolute;left:0;top:0">' + deco + '</svg>';
page.appendChild(holder.firstChild);
</script>
</body>
</html>
